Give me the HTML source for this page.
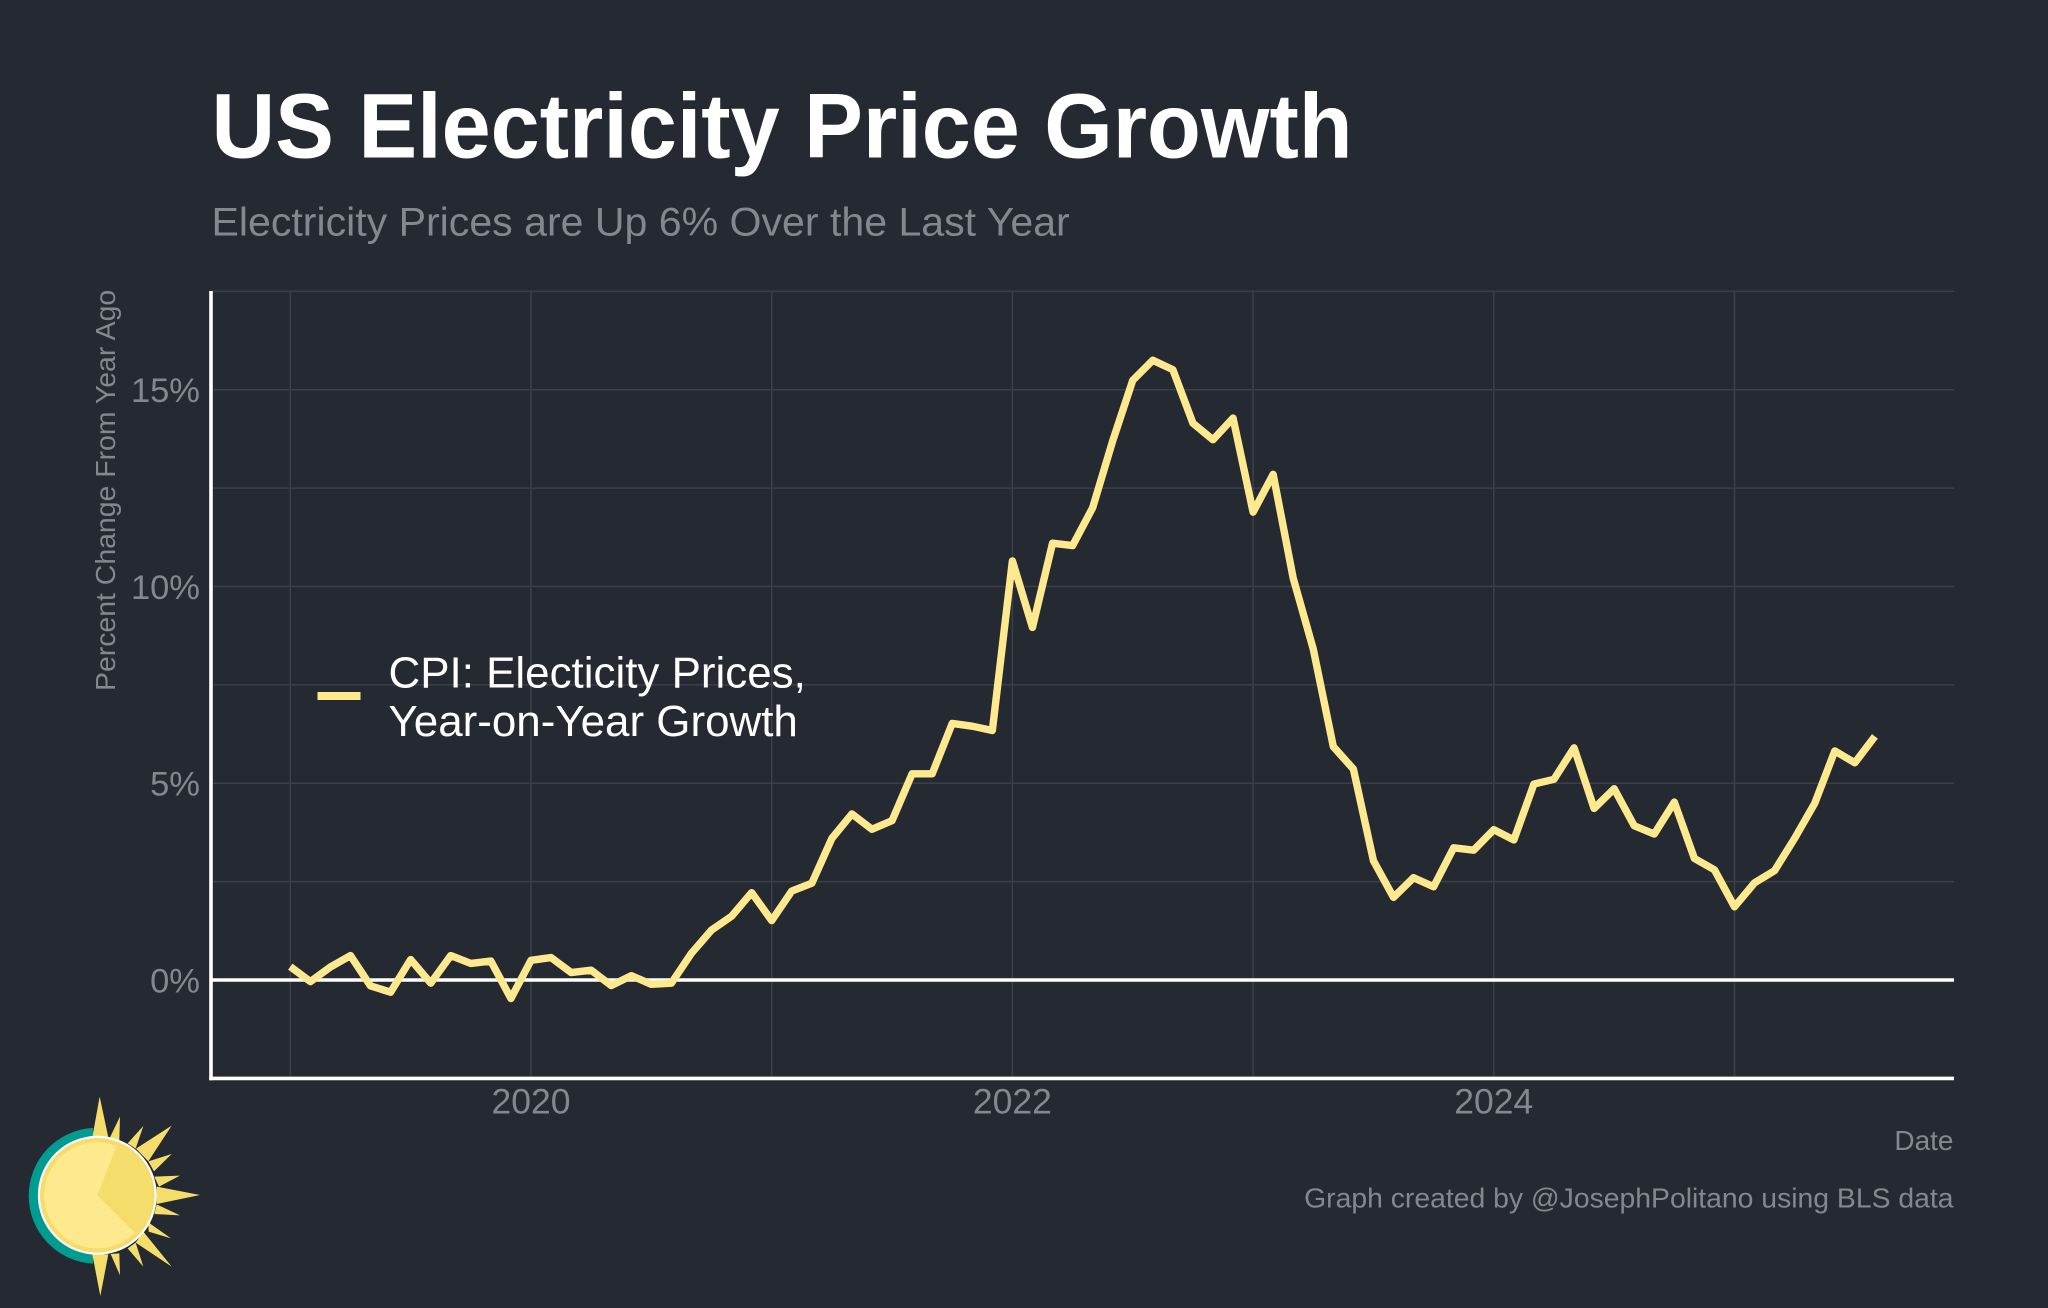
<!DOCTYPE html>
<html lang="en">
<head>
<meta charset="utf-8">
<title>US Electricity Price Growth</title>
<style>
html,body{margin:0;padding:0;background:#252a32;width:2048px;height:1308px;overflow:hidden}
svg{display:block;font-family:"Liberation Sans",Arial,sans-serif}
</style>
</head>
<body>
<svg id="chart" xmlns="http://www.w3.org/2000/svg" width="2048" height="1308" viewBox="0 0 2048 1308">
  <rect x="0" y="0" width="2048" height="1308" fill="#252a32"/>
  <text transform="translate(211.5,157.5) scale(0.958,1)" x="0" y="0" font-size="92" font-weight="700" fill="#ffffff">US Electricity Price Growth</text>
  <text transform="translate(211.5,235.5) scale(1.027,1)" x="0" y="0" font-size="40" fill="#85878f">Electricity Prices are Up 6% Over the Last Year</text>
  <g id="grid"></g>
  <g id="y-ticks"></g>
  <g id="x-ticks"></g>
  <g id="plot"></g>
  <text transform="translate(115,691) rotate(-90) scale(1.015,1)" font-size="28" fill="#85878f">Percent Change From Year Ago</text>
  <text x="1953.5" y="1150" text-anchor="end" font-size="28" fill="#85878f">Date</text>
  <text transform="translate(1953.5,1207.5) scale(1.0127,1)" x="0" y="0" text-anchor="end" font-size="28" fill="#85878f">Graph created by @JosephPolitano using BLS data</text>
  <g>
    <rect x="317.5" y="692" width="43" height="8" fill="#ffe98f"/>
    <text transform="translate(388.5,0) scale(1.01,1)" font-size="43.5" fill="#ffffff"><tspan x="0" y="687.5">CPI: Electicity Prices,</tspan><tspan x="0" y="736">Year-on-Year Growth</tspan></text>
  </g>
  <g>
    <path d="M93 1127.9 A68 68 0 0 0 93 1263.7 Z" fill="#009c8f"/>
    <g fill="#f5dd6b" transform="translate(0,1060) scale(0.3333)">
      <polygon points="277,232 299,110 325,232"/>
      <polygon points="330,232 360,170 358,242"/>
      <polygon points="383,250 430,198 407,266"/>
      <polygon points="408,266 515,197 445,304"/>
      <polygon points="445,304 515,282 462,334"/>
      <polygon points="463,350 540,347 477,380"/>
      <polygon points="470,380 600,405 470,432"/>
      <polygon points="470,433 540,466 463,462"/>
      <polygon points="445,487 513,535 446,515"/>
      <polygon points="430,515 515,620 407,548"/>
      <polygon points="407,548 430,620 383,565"/>
      <polygon points="358,580 360,646 332,582"/>
      <polygon points="277,583 301,708 325,583"/>
    </g>
    <circle cx="97.3" cy="1195.3" r="59.5" fill="#ffffff"/>
    <circle cx="97.3" cy="1195.3" r="57.3" fill="#f5dd6b"/>
    <path d="M97.3 1195.3 L134.8 1232.6 A53 53 0 1 1 116.6 1146 Z" fill="#ffe98f"/>
  </g>
</svg>
<script>
const months = [
  "2019-01","2019-02","2019-03","2019-04","2019-05","2019-06","2019-07","2019-08","2019-09","2019-10","2019-11","2019-12",
  "2020-01","2020-02","2020-03","2020-04","2020-05","2020-06","2020-07","2020-08","2020-09","2020-10","2020-11","2020-12",
  "2021-01","2021-02","2021-03","2021-04","2021-05","2021-06","2021-07","2021-08","2021-09","2021-10","2021-11","2021-12",
  "2022-01","2022-02","2022-03","2022-04","2022-05","2022-06","2022-07","2022-08","2022-09","2022-10","2022-11","2022-12",
  "2023-01","2023-02","2023-03","2023-04","2023-05","2023-06","2023-07","2023-08","2023-09","2023-10","2023-11","2023-12",
  "2024-01","2024-02","2024-03","2024-04","2024-05","2024-06","2024-07","2024-08","2024-09","2024-10","2024-11","2024-12",
  "2025-01","2025-02","2025-03","2025-04","2025-05","2025-06","2025-07","2025-08"
];
const cpiGrowth = [
  0.34,-0.04,0.33,0.62,-0.15,-0.31,0.52,-0.08,0.62,0.42,0.48,-0.47,
  0.50,0.57,0.19,0.25,-0.14,0.11,-0.11,-0.08,0.68,1.27,1.62,2.22,
  1.51,2.26,2.46,3.60,4.22,3.83,4.05,5.24,5.24,6.52,6.45,6.34,
  10.65,8.96,11.10,11.04,12.00,13.70,15.24,15.75,15.51,14.15,13.73,14.28,
  11.89,12.85,10.21,8.41,5.93,5.36,3.03,2.10,2.60,2.37,3.36,3.30,
  3.82,3.56,4.98,5.10,5.90,4.36,4.86,3.92,3.71,4.52,3.09,2.80,
  1.86,2.47,2.78,3.60,4.49,5.82,5.52,6.19
];
const yGridValues = [-2.5,0,2.5,5,7.5,10,12.5,15,17.5];
const yTickValues = [0,5,10,15];
const yTickLabels = ["0%","5%","10%","15%"];
const xGridYears = [2019,2020,2021,2022,2023,2024,2025];
const xTickYears = [2020,2022,2024];
const xTickLabels = ["2020","2022","2024"];

const NS = "http://www.w3.org/2000/svg";
const panel = {left: 211, right: 1954, top: 291, bottom: 1078.4};
function xScale(t){ return 290.3 + 240.7 * (t - 2019); }
function yScale(v){ return 980 - 39.35 * v; }
function monthToYear(m){ const p = m.split("-"); return +p[0] + (+p[1] - 1) / 12; }
function make(tag, attrs, parent){
  const el = document.createElementNS(NS, tag);
  for (const k in attrs) el.setAttribute(k, attrs[k]);
  parent.appendChild(el);
  return el;
}

const grid = document.getElementById("grid");
const plot = document.getElementById("plot");
const yTicks = document.getElementById("y-ticks");
const xTicks = document.getElementById("x-ticks");

yGridValues.forEach(function(v){
  if (v === -2.5) return;
  const el = make("line", {x1: panel.left, x2: panel.right, y1: yScale(v), y2: yScale(v), stroke: "#3c3f48", "stroke-width": 1.5}, grid);
  
  
});
xGridYears.forEach(function(t){
  const el = make("line", {x1: xScale(t), x2: xScale(t), y1: panel.top, y2: panel.bottom, stroke: "#3c3f48", "stroke-width": 1.5}, grid);
  
  
});

yTickValues.forEach(function(v, i){
  const el = make("text", {x: 200, y: yScale(v) + 12.4, "text-anchor": "end", "font-size": 34.5, fill: "#85878f"}, yTicks);
  el.textContent = yTickLabels[i];
  
  
});
xTickYears.forEach(function(t, i){
  const el = make("text", {x: xScale(t), y: 1113.3, "text-anchor": "middle", "font-size": 35.5, fill: "#85878f"}, xTicks);
  el.textContent = xTickLabels[i];
  
  
});

const zeroLine = make("line", {x1: panel.left, x2: panel.right, y1: yScale(0), y2: yScale(0), stroke: "#ffffff", "stroke-width": 3.4}, plot);



const yAxis = make("line", {x1: panel.left, x2: panel.left, y1: panel.top, y2: panel.bottom + 1.8, stroke: "#ffffff", "stroke-width": 3.6}, plot);



const xAxis = make("line", {x1: panel.left - 1.8, x2: panel.right, y1: panel.bottom, y2: panel.bottom, stroke: "#ffffff", "stroke-width": 3.6}, plot);



const pts = months.map(function(m, i){
  return xScale(monthToYear(m)).toFixed(2) + "," + yScale(cpiGrowth[i]).toFixed(2);
}).join(" ");
const series = make("polyline", {points: pts, fill: "none", stroke: "#ffe98f", "stroke-width": 7.4, "stroke-linejoin": "round", "stroke-linecap": "butt"}, plot);


</script>
</body>
</html>
